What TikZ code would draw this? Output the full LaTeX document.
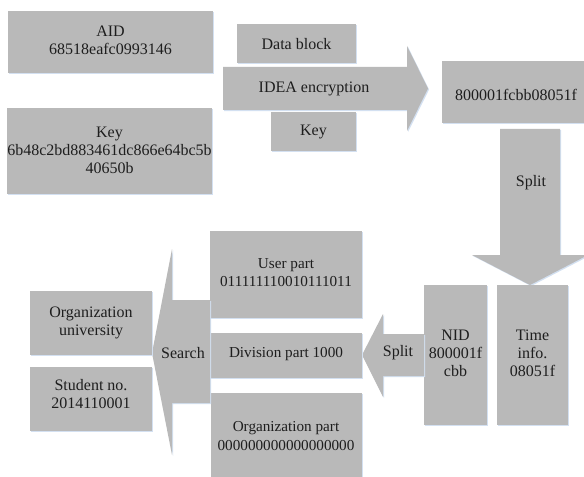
\documentclass[tikz,border=0pt]{standalone}
\usepackage{fontspec}
\setmainfont{Liberation Serif}
\definecolor{boxgray}{HTML}{B9B9B9}
\definecolor{edgeblue}{HTML}{D3E0F1}
\definecolor{ink}{HTML}{1E1E1E}
\begin{document}
\begin{tikzpicture}[x=0.75pt,y=-0.75pt,
  blk/.style={fill=boxgray,
    preaction={fill=edgeblue, transform canvas={shift={(0.8pt,-0.8pt)}}}},
  txt/.style={text=ink, align=center, inner sep=0pt,
    font=\fontsize{12}{13.6}\selectfont},
  smalltxt/.style={txt, font=\fontsize{11.4}{13.6}\selectfont}]
\useasboundingbox (0,0) rectangle (584,477);
\clip (0,0) rectangle (584,477);

% inputs
\fill[blk] (8,11) rectangle (213,73);
\node[txt] (aid) at (110.5,40) {AID\\68518eafc0993146};
\fill[blk] (7,108) rectangle (212,194);
\node[txt] (key) at (109.5,150) {Key\\6b48c2bd883461dc866e64bc5b\\40650b};

% encryption step
\fill[blk] (237,24) rectangle (356,63);
\node[txt] (data) at (296.5,44) {Data block};
\fill[blk] (223,67) -- (407,67) -- (407,46) -- (428,88.5) -- (407,131)
  -- (407,110) -- (223,110) -- cycle;
\node[txt] (idea) at (314,89) {IDEA encryption};
\fill[blk] (271,112) rectangle (356,151);
\node[txt] (keysm) at (313.5,132) {Key};

% cipher output
\fill[blk] (442,61) rectangle (590,123);
\node[txt] (cipher) at (516,95) {800001fcbb08051f};

% split downwards
\fill[blk] (500,129) -- (560,129) -- (560,255) -- (588,255) -- (530,285)
  -- (472,255) -- (500,255) -- cycle;
\node[txt] (split1) at (531,183) {Split};

\fill[blk] (424,285) rectangle (487,425);
\node[txt] (nid) at (455.5,353) {NID\\800001f\\cbb};
\fill[blk] (497,285) rectangle (568,425);
\node[txt] (time) at (532.5,353) {Time\\info.\\08051f};

% split leftwards
\fill[blk] (424,334) -- (383,334) -- (383,314) -- (362,355) -- (383,397)
  -- (383,376) -- (424,376) -- cycle;
\node[txt] (split2) at (398,353) {Split};

% NID parts
\fill[blk] (210,231) rectangle (362,318);
\node[smalltxt] (user) at (286,273) {User part\\011111110010111011};
\fill[blk] (210,333) rectangle (362,378);
\node[smalltxt] (div) at (286,354) {Division part 1000};
\fill[blk] (211,393) rectangle (362,480);
\node[smalltxt] (org) at (286,436) {Organization part\\000000000000000000};

% search
\fill[blk] (210,300) -- (172,300) -- (172,249) -- (152,353) -- (172,455)
  -- (172,403) -- (210,403) -- cycle;
\node[txt] (search) at (183,353) {Search};

% results
\fill[blk] (30,291) rectangle (152,355);
\node[txt] (orguni) at (91,323) {Organization\\university};
\fill[blk] (30,367) rectangle (152,431);
\node[txt] (student) at (91,394) {Student no.\\2014110001};
\end{tikzpicture}
\end{document}
